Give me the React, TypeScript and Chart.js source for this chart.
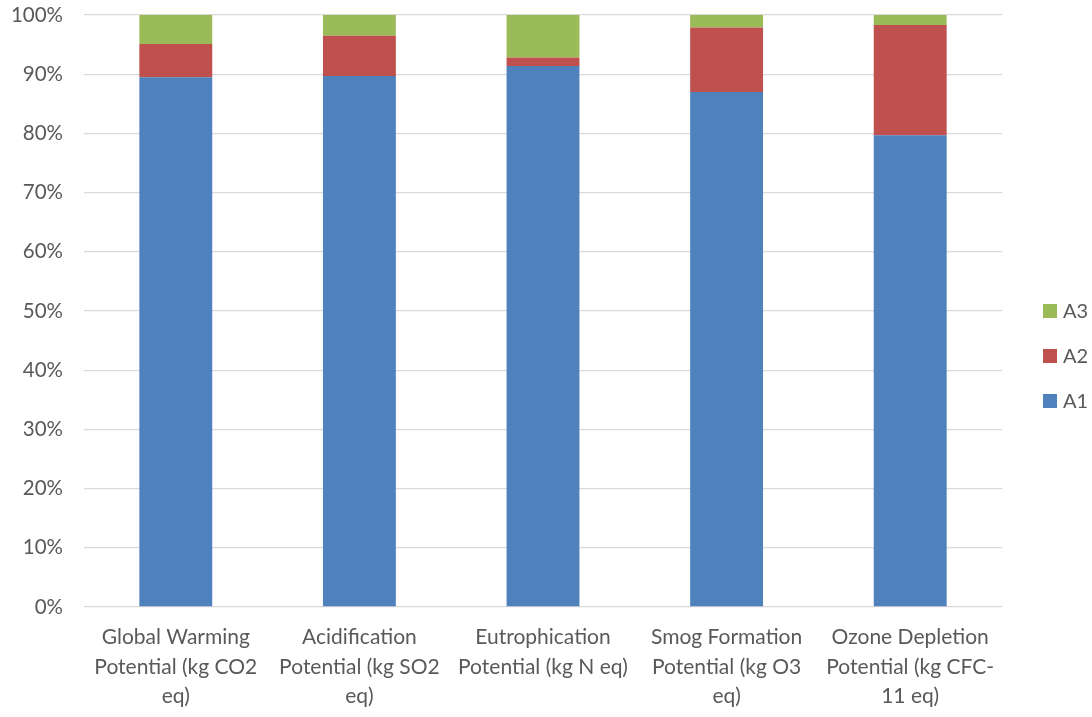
import React, { useEffect, useRef } from "react";
import { Chart, registerables } from "chart.js";

Chart.register(...registerables);

// Impact categories (multi-line axis labels)
const categories: string[][] = [
  ["Global Warming", "Potential (kg CO2", "eq)"],
  ["Acidification", "Potential (kg SO2", "eq)"],
  ["Eutrophication", "Potential (kg N eq)"],
  ["Smog Formation", "Potential (kg O3", "eq)"],
  ["Ozone Depletion", "Potential (kg CFC-", "11 eq)"],
];

// Share of each contributor, in percent
const seriesA1: number[] = [89.5, 89.7, 91.4, 87.0, 79.7];
const seriesA2: number[] = [5.6, 6.8, 1.4, 10.9, 18.6];
const seriesA3: number[] = [4.9, 3.5, 7.2, 2.1, 1.7];

const seriesNames = ["A1", "A2", "A3"];
const seriesColors = ["#4F81BD", "#C0504D", "#9BBB59"];

const yTicks: number[] = [0, 10, 20, 30, 40, 50, 60, 70, 80, 90, 100];

const FONT = "Lato, 'Open Sans', sans-serif";
const TEXT = "#595959";

// Legend drawn at the right, top item = last series
const sideLegend = {
  id: "sideLegend",
  afterDraw(chart: any) {
    const ctx = chart.ctx;
    const ds = chart.data.datasets;
    const x = 1043;
    const yStart = 311;
    const gap = 45;
    const box = 14;
    ctx.save();
    ctx.font = `20px ${FONT}`;
    ctx.textBaseline = "middle";
    ctx.textAlign = "left";
    for (let i = ds.length - 1, k = 0; i >= 0; i--, k++) {
      const y = yStart + k * gap;
      ctx.fillStyle = ds[i].backgroundColor;
      ctx.fillRect(x, y - box / 2, box, box);
      ctx.fillStyle = TEXT;
      ctx.fillText(ds[i].label, x + box + 6, y + 1);
    }
    ctx.restore();
  },
};

export default function App() {
  const ref = useRef<HTMLCanvasElement | null>(null);

  useEffect(() => {
    document.body.style.margin = "0";
    const canvas = ref.current;
    if (!canvas) return;
    const values = [seriesA1, seriesA2, seriesA3];
    const chart = new Chart(canvas, {
      type: "bar",
      data: {
        labels: categories as any,
        datasets: values.map((v, i) => ({
          label: seriesNames[i],
          data: v,
          backgroundColor: seriesColors[i],
          borderWidth: 0,
          barPercentage: 0.397,
          categoryPercentage: 1,
        })),
      },
      options: {
        animation: false,
        responsive: false,
        maintainAspectRatio: false,
        layout: { padding: { left: 0, right: 90, top: 15, bottom: 0 } },
        plugins: {
          legend: { display: false },
          tooltip: { enabled: false },
        },
        scales: {
          x: {
            stacked: true,
            grid: { display: false, drawTicks: false },
            border: { display: false },
            ticks: {
              color: TEXT,
              font: { family: FONT, size: 21, lineHeight: 1.4 },
              padding: 16,
              maxRotation: 0,
              autoSkip: false,
            },
            afterFit(scale: any) {
              scale.height = 110;
              scale.paddingTop = 0;
            },
          },
          y: {
            stacked: true,
            min: 0,
            max: 100,
            afterBuildTicks(scale: any) {
              scale.ticks = yTicks.map((v) => ({ value: v }));
            },
            grid: { color: "#D9D9D9", lineWidth: 1.3, drawTicks: false },
            border: { display: false },
            ticks: {
              color: TEXT,
              font: { family: FONT, size: 20.5 },
              padding: 21,
              callback: (v: any) => `${v}%`,
            },
            afterFit(scale: any) {
              scale.width = 84;
              scale.paddingTop = 0;
              scale.paddingBottom = 0;
            },
          },
        },
      },
      plugins: [sideLegend],
    });
    return () => chart.destroy();
  }, []);

  return (
    <div style={{ width: 1092, height: 717, background: "#fff" }}>
      <canvas ref={ref} width={1092} height={717} style={{ display: "block" }} />
    </div>
  );
}
